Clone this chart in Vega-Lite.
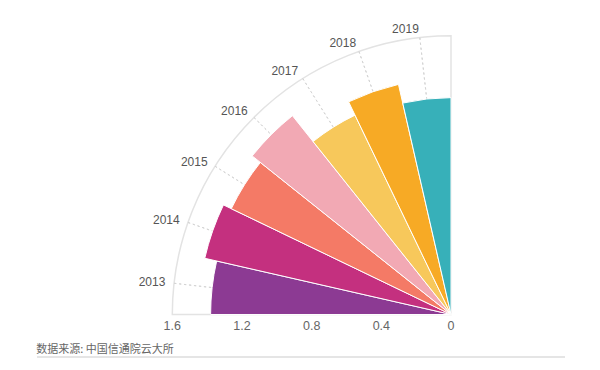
{
  "$schema": "https://vega.github.io/schema/vega-lite/v6.json",
  "width": 528,
  "height": 357,
  "autosize": {"type": "none"},
  "padding": {"left": 37, "top": 0, "right": 35, "bottom": 13},
  "background": "white",
  "title": {
    "text": "数据来源: 中国信通院云大所",
    "orient": "bottom",
    "anchor": "start",
    "offset": -13.5,
    "font": "Noto Sans CJK SC",
    "fontSize": 11,
    "fontWeight": "normal",
    "color": "#666666"
  },
  "data": {
    "values": [
      {"year": 2013, "value": 1.38},
      {"year": 2014, "value": 1.45},
      {"year": 2015, "value": 1.4},
      {"year": 2016, "value": 1.46},
      {"year": 2017, "value": 1.27},
      {"year": 2018, "value": 1.355},
      {"year": 2019, "value": 1.245}
    ]
  },
  "encoding": {
    "x": {
      "datum": 0,
      "type": "quantitative",
      "scale": {"domain": [-2.3766, 0.6544], "nice": false, "zero": false},
      "axis": null
    },
    "y": {
      "datum": 0,
      "type": "quantitative",
      "scale": {"domain": [-0.244, 1.8054], "nice": false, "zero": false},
      "axis": null
    }
  },
  "layer": [
    {
      "data": {"values": [{"part": "frame"}]},
      "mark": {"type": "arc", "filled": false, "stroke": "#e3e3e3", "strokeWidth": 1.5},
      "encoding": {
        "theta": {"datum": 2012.5, "type": "quantitative", "stack": null, "scale": {"domain": [2012.5, 2019.5], "range": [-1.5707963, 0]}},
        "theta2": {"datum": 2019.5},
        "radius": {"datum": 1.6, "type": "quantitative", "stack": null, "scale": {"type": "linear", "domain": [0, 1.6], "range": [0, 278.7], "zero": true, "nice": false}}
      }
    },
    {
      "mark": {"type": "arc", "filled": false, "stroke": "#d4d4d4", "strokeWidth": 1, "strokeDash": [2, 3]},
      "encoding": {
        "theta": {"field": "year", "type": "quantitative", "stack": null, "scale": {"domain": [2012.5, 2019.5], "range": [-1.5707963, 0]}},
        "theta2": {"field": "year"},
        "radius": {"datum": 1.6, "type": "quantitative", "stack": null, "scale": {"type": "linear", "domain": [0, 1.6], "range": [0, 278.7], "zero": true, "nice": false}}
      }
    },
    {
      "transform": [
        {"joinaggregate": [{"op": "count", "as": "n"}], "groupby": ["year"]},
        {"stack": "n", "groupby": [], "sort": [{"field": "year", "order": "ascending"}], "as": ["t0", "t1"]}
      ],
      "mark": {"type": "arc", "stroke": "white", "strokeWidth": 1},
      "encoding": {
        "theta": {"field": "t0", "type": "quantitative", "stack": null, "scale": {"domain": [0, 7], "range": [-1.5707963, 0]}},
        "theta2": {"field": "t1"},
        "radius": {"field": "value", "type": "quantitative", "stack": null, "scale": {"type": "linear", "domain": [0, 1.6], "range": [0, 278.7], "zero": true, "nice": false}},
        "color": {
          "field": "year",
          "type": "nominal",
          "scale": {
            "domain": [2013, 2014, 2015, 2016, 2017, 2018, 2019],
            "range": ["#8c3a93", "#c4307f", "#f47a66", "#f2a9b4", "#f7c85b", "#f7aa25", "#37b0b9"]
          },
          "legend": null
        }
      }
    },
    {
      "mark": {"type": "text", "align": "right", "baseline": "middle", "font": "Liberation Sans", "fontSize": 12, "color": "#555555"},
      "encoding": {
        "theta": {"field": "year", "type": "quantitative", "stack": null, "scale": {"domain": [2012.5, 2019.5], "range": [-1.5707963, 0]}},
        "radius": {"datum": 1.65, "type": "quantitative", "stack": null, "scale": {"type": "linear", "domain": [0, 1.6], "range": [0, 278.7], "zero": true, "nice": false}},
        "text": {"field": "year", "type": "nominal"}
      }
    },
    {
      "data": {"values": [{"tick": 1.6}, {"tick": 1.2}, {"tick": 0.8}, {"tick": 0.4}, {"tick": 0}]},
      "mark": {"type": "text", "align": "center", "baseline": "top", "dy": 6, "font": "Liberation Sans", "fontSize": 12.5, "color": "#666666"},
      "encoding": {
        "theta": {"datum": 2012.5, "type": "quantitative", "stack": null, "scale": {"domain": [2012.5, 2019.5], "range": [-1.5707963, 0]}},
        "radius": {"field": "tick", "type": "quantitative", "stack": null, "scale": {"type": "linear", "domain": [0, 1.6], "range": [0, 278.7], "zero": true, "nice": false}},
        "text": {"field": "tick", "type": "quantitative", "format": ".1~f"}
      }
    },
    {
      "data": {"values": [{"part": "rule"}]},
      "mark": {"type": "rule", "stroke": "#dcdcdc", "strokeWidth": 1.5},
      "encoding": {
        "x": {"datum": -2.3766, "type": "quantitative", "scale": {"domain": [-2.3766, 0.6544], "nice": false, "zero": false}, "axis": null},
        "x2": {"datum": 0.6544},
        "y": {"datum": -0.244, "type": "quantitative", "scale": {"domain": [-0.244, 1.8054], "nice": false, "zero": false}, "axis": null}
      }
    }
  ],
  "resolve": {"scale": {"theta": "independent"}},
  "config": {"view": {"stroke": null}}
}
